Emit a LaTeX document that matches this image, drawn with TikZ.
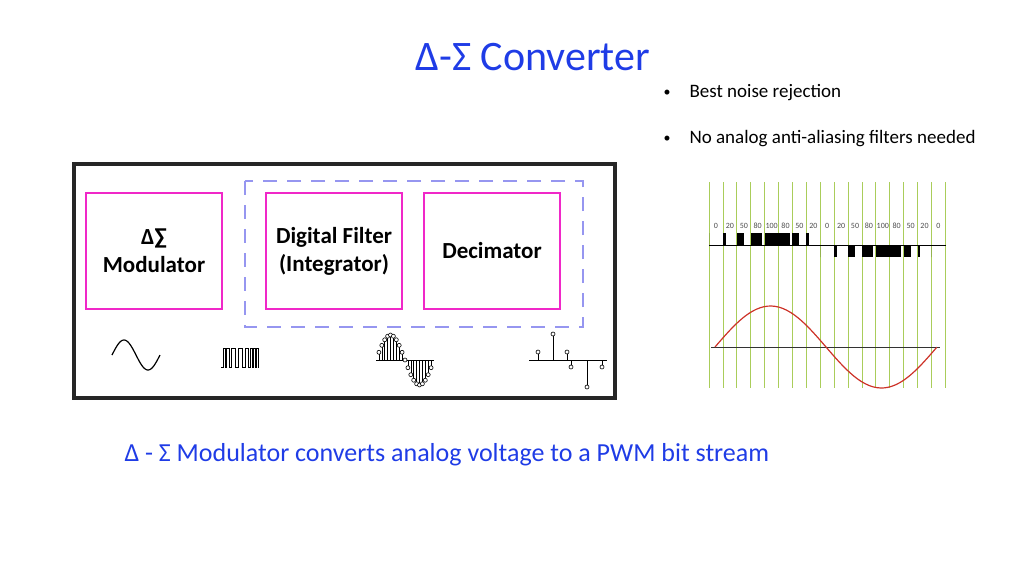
\documentclass[tikz,border=0pt]{standalone}
\usepackage{fontspec}
\setmainfont{Carlito}
\usepackage{tikz}
\definecolor{titleblue}{RGB}{31,60,230}
\definecolor{dashblue}{RGB}{150,150,240}
\definecolor{boxpink}{RGB}{240,40,200}
\definecolor{gridgreen}{RGB}{170,205,90}
\definecolor{sinered}{RGB}{205,50,40}
\tikzset{
  block/.style={draw=boxpink, line width=2.5pt, minimum width=136pt, minimum height=116pt, align=center, font=\fontsize{23}{28}\selectfont\bfseries},
  bullet/.style={anchor=west, font=\fontsize{19}{22}\selectfont},
  stem/.style={line width=0.6pt},
  dot/.style={circle, draw, line width=0.6pt, inner sep=0pt, minimum size=4pt, fill=white}
}
\begin{document}
\begin{tikzpicture}[x=1pt,y=-1pt]
  \useasboundingbox (0,0) rectangle (1024,576);
  % Title and bullets
  \node[text=titleblue, font=\fontsize{42}{46}\selectfont] (title) at (533,57) {Δ-Σ Converter};
  \node[font=\fontsize{14}{16}\selectfont] (d1) at (667,93) {\textbullet};
  \node[bullet] (b1) at (686,93) {Best noise rejection};
  \node[font=\fontsize{14}{16}\selectfont] (d2) at (667,139) {\textbullet};
  \node[bullet] (b2) at (686,139) {No analog anti-aliasing filters needed};
  % Block diagram frame
  \draw[line width=4pt, draw=black!85, fill=white] (74,164) rectangle (615,398);
  \draw[dashblue, line width=2.5pt, dash pattern=on 14pt off 10pt] (245,181) rectangle (583,327);
  \node[block] (mod) at (154,251) {Δ∑\\Modulator};
  \node[block] (filt) at (334,251) {Digital Filter\\(Integrator)};
  \node[block] (dec) at (492,251) {Decimator};
  % Waveform icons
  \draw[line width=1.2pt, domain=0:1, samples=40, smooth] plot ({112+48*\x}, {355-15*sin(360*\x)});
  \draw[line width=0.6pt] (221,367) -- (223,367) -- (223,348) -- (225,348) -- (225,367) -- (226,367) -- (226,348) -- (229,348) -- (229,367) -- (231,367) -- (231,348) -- (235,348) -- (235,367) -- (238,367) -- (238,348) -- (242,348) -- (242,367) -- (245,367) -- (245,348) -- (248,348) -- (248,367) -- (250,367) -- (250,348) -- (252,348) -- (252,367) -- (253,367) -- (253,348) -- (255,348) -- (255,367) -- (256,367) -- (256,348) -- (258,348) -- (258,367) -- (259,367);
  \draw[stem] (376,360) -- (434,360);
  \foreach \i in {1,...,19}{
    \pgfmathsetmacro{\sx}{376+2.9*\i}
    \pgfmathsetmacro{\sy}{360-25*sin(18*\i)}
    \draw[stem] (\sx,360) -- (\sx,\sy) node[dot] {};
  }
  \draw[stem] (529,360) -- (607,360);
  \foreach \sx/\sy in {538/352, 553/334, 567/352, 571/367, 587/387, 602/367}
    \draw[stem] (\sx,360) -- (\sx,\sy) node[dot] {};
  % PWM chart
  \foreach \i in {0,...,17}
    \draw[gridgreen, line width=0.8pt] ({709+13.9*\i},182) -- ({709+13.9*\i},388);
  \foreach \v [count=\i from 0] in {0,20,50,80,100,80,50,20,0,20,50,80,100,80,50,20,0}{
    \node[font=\fontsize{8}{9}\selectfont, text=black!70] at ({716+13.9*\i},226) {\v};
    \ifnum\i<8
      \fill ({709+13.9*\i},245) rectangle ({709+13.9*\i+0.139*\v},233);
    \else
      \fill ({709+13.9*\i},245) rectangle ({709+13.9*\i+0.139*\v},257);
    \fi
  }
  \draw[line width=1pt] (709,245) -- (946,245);
  \draw[black!80, line width=1pt] (711,347) -- (940,347);
  \draw[sinered, line width=1.2pt, domain=0:1, samples=60, smooth] plot ({715+222*\x}, {347-41*sin(360*\x)});
  % Caption
  \node[text=titleblue, font=\fontsize{26}{31}\selectfont, anchor=west] (cap) at (121,455) {Δ - Σ Modulator converts analog voltage to a PWM bit stream};
\end{tikzpicture}
\end{document}
